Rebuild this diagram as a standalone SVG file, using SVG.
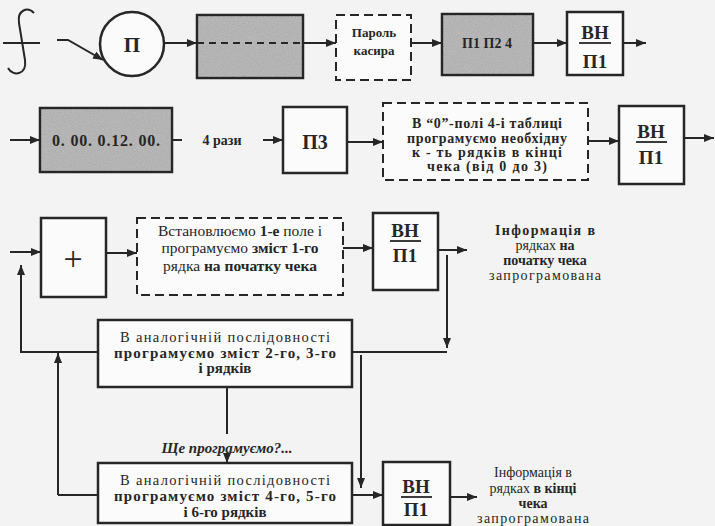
<svg xmlns="http://www.w3.org/2000/svg" width="715" height="526" viewBox="0 0 715 526">
<defs>
<marker id="ah" viewBox="0 0 10 8" refX="10" refY="4" markerWidth="10" markerHeight="8" markerUnits="userSpaceOnUse" orient="auto">
<path d="M0,0 L10,4 L0,8 Z" fill="#262626"/>
</marker>
<filter id="grain" x="0" y="0" width="100%" height="100%">
<feTurbulence type="fractalNoise" baseFrequency="0.9" numOctaves="2" seed="3" result="n"/>
<feColorMatrix in="n" type="matrix" values="0 0 0 0 0.62  0 0 0 0 0.62  0 0 0 0 0.62  0 0 0 1.2 -0.2" result="g"/>
<feComposite in="g" in2="SourceGraphic" operator="in"/>
</filter>
</defs>
<style>
.box{fill:#fbfbfb;stroke:#262626;stroke-width:2.5}
.gray{fill:#acacac;stroke:#262626;stroke-width:2.5}
.dash{fill:#fbfbfb;stroke:#262626;stroke-width:2;stroke-dasharray:9 5}
.ln{fill:none;stroke:#262626;stroke-width:2}
.ar{fill:none;stroke:#262626;stroke-width:2;marker-end:url(#ah)}
text{font-family:"Liberation Serif","Tinos","DejaVu Serif",serif;fill:#262626;text-anchor:middle}
.b{font-weight:bold}
.r{font-weight:normal}
.vh{font-size:19px;font-weight:bold}
</style>
<rect width="715" height="526" fill="#f3f3f3"/>

<g id="connectors">
<path class="ln" d="M3,43 L40,43"/>
<path class="ln" d="M34,13 C28,6 17,10 19,23 L25,60 C27,75 13,77 8,68"/>
<path class="ar" d="M57,40 L68,40 L103,60"/>
<path class="ar" d="M164,43 L197,43"/>
<path class="ar" d="M303,43 L336,43"/>
<path class="ar" d="M411,43 L442,43"/>
<path class="ar" d="M533,43 L567,43"/>
<path class="ar" d="M623,43 L646,43"/>
<path class="ar" d="M10,140 L40,140"/>
<path class="ln" d="M172,140 L182,140"/>
<path class="ar" d="M263,140 L283,140"/>
<path class="ar" d="M347,142 L383,142"/>
<path class="ar" d="M588,141 L619,141"/>
<path class="ar" d="M684,138 L714,138"/>
<path class="ar" d="M10,252 L41,252"/>
<path class="ar" d="M21,352 L21,265"/>
<path class="ar" d="M106,253 L137,253"/>
<path class="ar" d="M343,248 L373,248"/>
<path class="ar" d="M438,250 L467,250"/>
<path class="ar" d="M447,255 L447,348"/>
<path class="ln" d="M20,352 L98,352"/>
<path class="ln" d="M352,352 L447,352"/>
<path class="ar" d="M361,355 L361,488"/>
<path class="ln" d="M227,387 L227,434"/>
<path class="ar" d="M227,455 L227,463"/>
<path class="ar" d="M58,495 L58,353"/>
<path class="ln" d="M58,495 L98,495"/>
<path class="ar" d="M352,495 L383,495"/>
<path class="ar" d="M450,497 L477,497"/>
</g>

<g id="n-start">
<circle cx="132" cy="44" r="32" class="box"/>
<text x="132" y="52" class="b" font-size="21">П</text>
</g>

<g id="n-gray1">
<rect x="197" y="15" width="106" height="63" class="gray"/>
<rect x="198" y="16" width="104" height="61" fill="#fff" filter="url(#grain)" opacity="0.6"/>
<path d="M197,43 L303,43" stroke="#262626" stroke-width="2" stroke-dasharray="7 5"/>
</g>

<g id="n-password">
<rect x="336" y="15" width="75" height="65" class="dash"/>
<text x="374" y="37" class="b" font-size="13">Пароль</text>
<text x="374" y="55" class="b" font-size="13">касира</text>
</g>

<g id="n-p1p2">
<rect x="442" y="14" width="91" height="61" class="gray"/>
<rect x="443" y="15" width="89" height="59" fill="#fff" filter="url(#grain)" opacity="0.6"/>
<text x="487" y="48" class="b" font-size="14">П1 П2 4</text>
</g>

<g id="n-vn1">
<rect x="567" y="12" width="56" height="63" class="box"/>
<text x="595" y="39" class="vh">ВН</text>
<path d="M579,43 L611,43" stroke="#262626" stroke-width="1.8"/>
<text x="595" y="68" class="vh">П1</text>
</g>

<g id="n-date">
<rect x="40" y="108" width="132" height="64" class="gray"/>
<rect x="41" y="109" width="130" height="62" fill="#fff" filter="url(#grain)" opacity="0.6"/>
<text x="106" y="146" class="b" font-size="16" textLength="108" lengthAdjust="spacing">0. 00. 0.12. 00.</text>
</g>

<g id="l-4times">
<text x="222" y="145" class="b" font-size="14">4 рази</text>
</g>

<g id="n-p3">
<rect x="283" y="107" width="64" height="66" class="box"/>
<text x="315" y="149" class="b" font-size="20">П3</text>
</g>

<g id="n-field0">
<rect x="383" y="103" width="205" height="77" class="dash"/>
<text x="487" y="128" class="b" font-size="14" textLength="150" lengthAdjust="spacing">В “0”-полі 4-і таблиці</text>
<text x="487" y="143" class="b" font-size="14" textLength="160" lengthAdjust="spacing">програмуємо необхідну</text>
<text x="487" y="157" class="b" font-size="14" textLength="150" lengthAdjust="spacing">к - ть рядків в кінці</text>
<text x="487" y="171" class="b" font-size="14" textLength="120" lengthAdjust="spacing">чека (від 0 до 3)</text>
</g>

<g id="n-vn2">
<rect x="619" y="106" width="65" height="78" class="box"/>
<text x="651" y="138" class="vh">ВН</text>
<path d="M636,142 L667,142" stroke="#262626" stroke-width="1.8"/>
<text x="651" y="164" class="vh">П1</text>
</g>

<g id="n-plus">
<rect x="41" y="218" width="65" height="79" class="box"/>
<text x="73" y="270" font-size="34">+</text>
</g>

<g id="n-set1">
<rect x="137" y="218" width="206" height="77" class="dash"/>
<text x="240" y="236" font-size="15.5"><tspan class="r">Встановлюємо </tspan><tspan class="b">1-е</tspan><tspan class="r"> поле і</tspan></text>
<text x="240" y="253" font-size="15.5"><tspan class="r">програмуємо </tspan><tspan class="b">зміст 1-го</tspan></text>
<text x="240" y="271" font-size="15.5"><tspan class="r">рядка </tspan><tspan class="b">на початку чека</tspan></text>
</g>

<g id="n-vn3">
<rect x="373" y="213" width="65" height="77" class="box"/>
<text x="405" y="237" class="vh">ВН</text>
<path d="M390,241 L421,241" stroke="#262626" stroke-width="1.8"/>
<text x="405" y="262" class="vh">П1</text>
</g>

<g id="l-info1">
<text x="545" y="235" class="b" font-size="14" textLength="100" lengthAdjust="spacing">Інформація в</text>
<text x="545" y="250" font-size="14"><tspan class="r">рядках </tspan><tspan class="b">на</tspan></text>
<text x="545" y="265" class="b" font-size="14">початку чека</text>
<text x="545" y="280" class="r" font-size="14" textLength="112" lengthAdjust="spacing">запрограмована</text>
</g>

<g id="n-rows23">
<rect x="98" y="320" width="254" height="67" class="box"/>
<text x="225" y="342" class="r" font-size="14.5" textLength="210" lengthAdjust="spacing">В аналогічній послідовності</text>
<text x="225" y="357.5" class="b" font-size="15" textLength="222" lengthAdjust="spacing">програмуємо зміст 2-го, 3-го</text>
<text x="225" y="373" class="b" font-size="15">і рядків</text>
</g>

<g id="l-more">
<text x="227" y="453" class="b" font-size="15" font-style="italic">Ще програмуємо?...</text>
</g>

<g id="n-rows456">
<rect x="98" y="463" width="254" height="60" class="box"/>
<text x="225" y="485" class="r" font-size="14.5" textLength="210" lengthAdjust="spacing">В аналогічній послідовності</text>
<text x="225" y="501" class="b" font-size="15" textLength="222" lengthAdjust="spacing">програмуємо зміст 4-го, 5-го</text>
<text x="225" y="517" class="b" font-size="15">і 6-го рядків</text>
</g>

<g id="n-vn4">
<rect x="383" y="462" width="67" height="63" class="box"/>
<text x="416" y="493" class="vh">ВН</text>
<path d="M401,497 L432,497" stroke="#262626" stroke-width="1.8"/>
<text x="416" y="516" class="vh">П1</text>
</g>

<g id="l-info2">
<text x="533" y="477" class="r" font-size="14">Інформація в</text>
<text x="533" y="493" font-size="14"><tspan class="r">рядках </tspan><tspan class="b">в кінці</tspan></text>
<text x="533" y="508" class="b" font-size="14">чека</text>
<text x="533" y="523" class="r" font-size="14" textLength="112" lengthAdjust="spacing">запрограмована</text>
</g>
</svg>
